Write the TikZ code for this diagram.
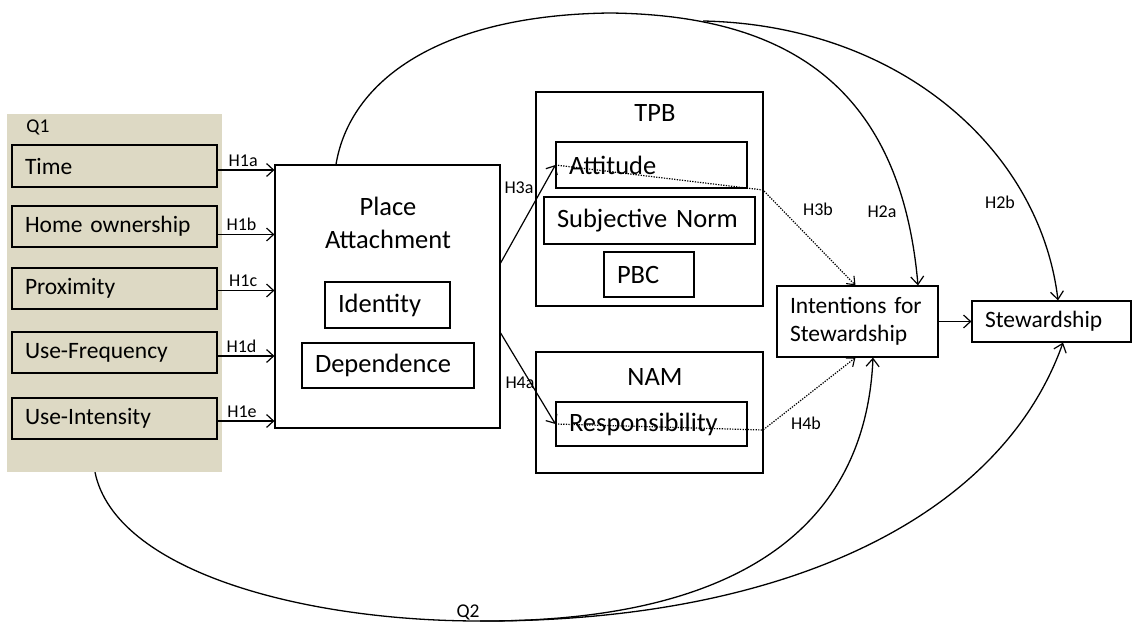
\documentclass[tikz,border=0pt]{standalone}
\usepackage{fontspec}
\setmainfont{Carlito}
\usetikzlibrary{arrows.meta,calc}
\definecolor{beige}{RGB}{221,217,196}
\begin{document}
\begin{tikzpicture}[x=1pt,y=-1pt,
  bx/.style={draw, line width=1.2pt, inner xsep=13pt, inner ysep=0pt, align=left},
  frame/.style={draw, line width=1.2pt, inner sep=0pt},
  big/.style={font=\fontsize{26.5}{33}\selectfont},
  med/.style={font=\fontsize{23.5}{28}\selectfont},
  lbl/.style={font=\fontsize{18}{20}\selectfont, inner sep=0pt},
  qlbl/.style={font=\fontsize{19.5}{22}\selectfont, inner sep=0pt},
  arr/.style={line width=1.2pt, -{Straight Barb[length=7pt,width=13pt,line width=1.2pt]}},
  dotarr/.style={line width=1.2pt, dash pattern=on 1.3pt off 1.3pt, -{Straight Barb[length=7pt,width=11pt,line width=1.1pt]}},
  curve/.style={line width=1.3pt, -{Straight Barb[length=8pt,width=13pt,line width=1.2pt]}}
]
\useasboundingbox (0,0) rectangle (1132,623);
% Q1 background
\node[fill=beige, minimum width=215pt, minimum height=358pt, inner sep=0pt] (q1) at (114.5,293) {};
\node[qlbl] (q1lbl) at (38,127) {Q1};
% left boxes
\node[bx, med, text width=179pt, minimum height=42pt] (time) at (114.5,166) {Time};
\node[bx, med, text width=179pt, minimum height=41pt] (home) at (114.5,226.5) {Home ownership};
\node[bx, med, text width=179pt, minimum height=41pt] (prox) at (114.5,288.5) {Proximity};
\node[bx, med, text width=179pt, minimum height=41pt] (freq) at (114.5,352.5) {Use-Frequency};
\node[bx, med, text width=179pt, minimum height=41pt] (inten) at (114.5,418.5) {Use-Intensity};
% place attachment
\node[frame, minimum width=225pt, minimum height=263pt] (pa) at (387.5,296.5) {};
\node[big, align=center, inner sep=0pt] (patxt) at (388,223) {Place\\Attachment};
\node[bx, big, text width=99pt, minimum height=46pt] (ident) at (387.5,305) {Identity};
\node[bx, big, text width=146pt, minimum height=45pt] (dep) at (388,365.5) {Dependence};
% TPB
\node[frame, minimum width=227pt, minimum height=214pt] (tpb) at (649.5,199) {};
\node[big, inner sep=0pt] (tpblbl) at (655,113) {TPB};
\node[bx, big, text width=165pt, minimum height=46pt] (att) at (651.5,165) {Attitude};
\node[bx, big, text width=185pt, minimum height=47pt] (subj) at (649.5,220.5) {Subjective Norm};
\node[bx, big, text width=64pt, minimum height=45pt] (pbc) at (649,274.5) {PBC};
% NAM
\node[frame, minimum width=227pt, minimum height=121pt] (nam) at (649.5,412.5) {};
\node[big, inner sep=0pt] (namlbl) at (655,377) {NAM};
\node[bx, big, text width=165pt, minimum height=44pt] (resp) at (651.5,424) {Responsibility};
% outcomes
\node[bx, med, text width=135pt, minimum height=71pt] (int) at (857.5,321.5) {Intentions for\\Stewardship};
\node[bx, med, text width=133pt, minimum height=41pt] (stew) at (1051.5,321.5) {Stewardship};
% H1 arrows
\draw[arr] ([yshift=-4pt]time.east) -- ([yshift=-4pt]time.east -| pa.west) node[lbl, pos=0.45, above=3pt] {H1a};
\draw[arr] ([yshift=-8pt]home.east) -- ([yshift=-8pt]home.east -| pa.west) node[lbl, pos=0.42, above=3pt] {H1b};
\draw[arr] ([yshift=-2pt]prox.east) -- ([yshift=-2pt]prox.east -| pa.west) node[lbl, pos=0.45, above=3pt] {H1c};
\draw[arr] ([yshift=-3.5pt]freq.east) -- ([yshift=-3.5pt]freq.east -| pa.west) node[lbl, pos=0.42, above=3pt] {H1d};
\draw[arr] ([yshift=-2.5pt]inten.east) -- ([yshift=-2.5pt]inten.east -| pa.west) node[lbl, pos=0.43, above=3pt] {H1e};
% H3a, H4a
\draw[arr] ([yshift=33.5pt]pa.east) -- (att.west);
\node[lbl] (h3a) at (519,188) {H3a};
\draw[arr] ([yshift=-36.5pt]pa.east) -- (resp.west);
\node[lbl] (h4a) at (520,383) {H4a};
% dotted H3b, H4b
\coordinate (h3bend) at (763,190);
\coordinate (h4bend) at (763,430);
\draw[dotarr] (att.west) -- (h3bend) -- ([xshift=-2pt]int.north);
\draw[dotarr] (resp.west) -- (h4bend) -- ([xshift=-2pt]int.south);
\node[lbl] (h3b) at (818,209) {H3b};
\node[lbl] (h4b) at (806,423) {H4b};
% intentions -> stewardship
\draw[arr] (int.east) -- (stew.west);
% H2a, H2b top curves
\coordinate (split) at (703,21);
\draw[curve] ([xshift=-51.5pt]pa.north) .. controls (350,80) and (440,15) .. (610,13) .. controls (780,15) and (900,80) .. ([xshift=60.5pt]int.north);
\draw[curve] (split) .. controls (900,25) and (1040,150) .. ([xshift=6.5pt]stew.north);
\node[lbl] (h2a) at (882,212) {H2a};
\node[lbl] (h2b) at (1000,202) {H2b};
% Q2 bottom curves
\coordinate (q2bot) at (480,621);
\draw[curve] ([xshift=-19.5pt]q1.south) .. controls (115,570) and (300,621) .. (q2bot) .. controls (720,622) and (865,540) .. ([xshift=15.5pt]int.south);
\draw[curve] (q2bot) .. controls (780,622) and (1000,520) .. ([xshift=11.5pt]stew.south);
\node[qlbl] (q2) at (468,612) {Q2};
\end{tikzpicture}
\end{document}
